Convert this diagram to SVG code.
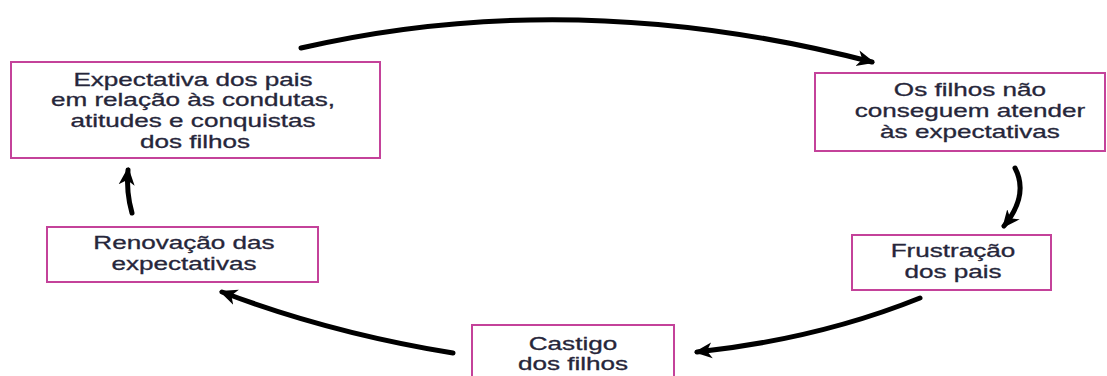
<svg xmlns="http://www.w3.org/2000/svg" width="1107" height="376" viewBox="0 0 1107 376">
<style>
.box{fill:#fff;stroke:#C4429A;stroke-width:2}
.t{font-family:"Liberation Sans",Arial,sans-serif;font-size:18px;fill:#26263a;stroke:#26263a;stroke-width:0.3;text-anchor:middle}
.arr{fill:none;stroke:#000;stroke-width:5;stroke-linecap:round}
</style>
<defs>
<marker id="ah" markerUnits="userSpaceOnUse" markerWidth="20" markerHeight="18" refX="15" refY="9" orient="auto" viewBox="0 0 20 18">
<path d="M0,1 L18,9 L0,17 L5,9 Z" fill="#000"/>
</marker>
</defs>
<rect width="1107" height="376" fill="#fff"/>
<g id="connectors">
<path class="arr" d="M301,48 Q575,-15 872,62" marker-end="url(#ah)"/>
<path class="arr" d="M1015,168 C1024,185 1021,205 1004,226" marker-end="url(#ah)"/>
<path class="arr" d="M920,298 Q818,339 697,352" marker-end="url(#ah)"/>
<path class="arr" d="M453,353 Q330,333 222,292" marker-end="url(#ah)"/>
<path class="arr" d="M132,213 Q126,192 128,170" marker-end="url(#ah)"/>
</g>
<g id="n1">
<rect class="box" x="11" y="62" width="369" height="96"/>
<text class="t" transform="translate(193 86) scale(1.45 1)">Expectativa dos pais</text>
<text class="t" transform="translate(193 106) scale(1.45 1)">em relação às condutas,</text>
<text class="t" transform="translate(193 127) scale(1.45 1)">atitudes e conquistas</text>
<text class="t" transform="translate(195 148) scale(1.45 1)">dos filhos</text>
</g>
<g id="n2">
<rect class="box" x="815" y="73" width="290" height="78"/>
<text class="t" transform="translate(970 96) scale(1.45 1)">Os filhos não</text>
<text class="t" transform="translate(970 117) scale(1.45 1)">conseguem atender</text>
<text class="t" transform="translate(970 138) scale(1.45 1)">às expectativas</text>
</g>
<g id="n3">
<rect class="box" x="852" y="235" width="199" height="55"/>
<text class="t" transform="translate(953 257) scale(1.45 1)">Frustração</text>
<text class="t" transform="translate(953 278) scale(1.45 1)">dos pais</text>
</g>
<g id="n4">
<rect class="box" x="472" y="325" width="202" height="60"/>
<text class="t" transform="translate(573 350) scale(1.45 1)">Castigo</text>
<text class="t" transform="translate(573 370) scale(1.45 1)">dos filhos</text>
</g>
<g id="n5">
<rect class="box" x="47" y="227" width="271" height="55"/>
<text class="t" transform="translate(184 249) scale(1.45 1)">Renovação das</text>
<text class="t" transform="translate(184 270) scale(1.45 1)">expectativas</text>
</g>
</svg>
